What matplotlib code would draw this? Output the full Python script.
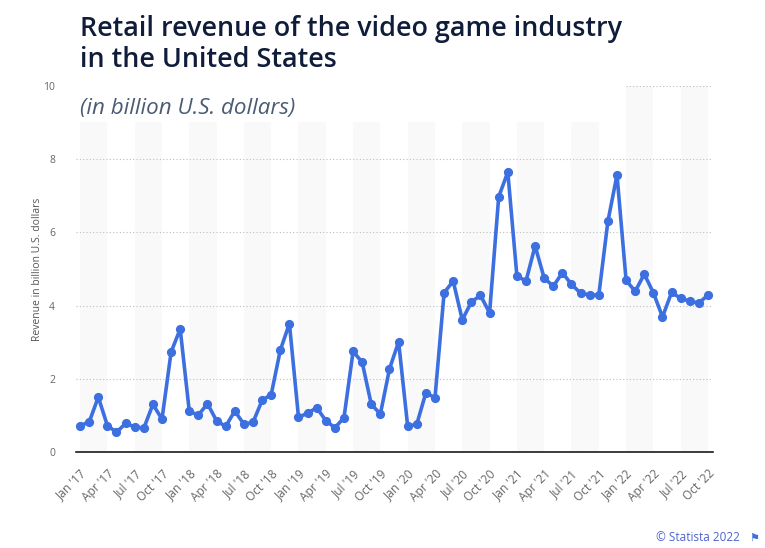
import matplotlib
matplotlib.use("Agg")
import matplotlib.pyplot as plt
from matplotlib.patches import Rectangle

# ---- data ----
months = ["Jan", "Feb", "Mar", "Apr", "May", "Jun", "Jul", "Aug", "Sep", "Oct", "Nov", "Dec"]
years = ["17", "18", "19", "20", "21", "22"]
revenue = [
    0.72, 0.82, 1.50, 0.72, 0.54, 0.78, 0.69, 0.65, 1.30, 0.90, 2.73, 3.36,   # 2017
    1.11, 1.01, 1.32, 0.85, 0.70, 1.12, 0.76, 0.81, 1.41, 1.57, 2.78, 3.51,   # 2018
    0.95, 1.06, 1.21, 0.86, 0.66, 0.94, 2.75, 2.45, 1.30, 1.04, 2.27, 3.01,   # 2019
    0.70, 0.76, 1.62, 1.48, 4.35, 4.67, 3.61, 4.10, 4.28, 3.80, 6.97, 7.65,   # 2020
    4.81, 4.67, 5.63, 4.75, 4.53, 4.90, 4.58, 4.34, 4.29, 4.29, 6.30, 7.57,   # 2021
    4.69, 4.39, 4.86, 4.35, 3.69, 4.36, 4.20, 4.12, 4.07, 4.29,               # 2022
]
labels = [f"{m} '{y}" for y in years for m in months][:len(revenue)]
y_ticks = [0, 2, 4, 6, 8, 10]

title_lines = ["Retail revenue of the video game industry", "in the United States"]
subtitle = "(in billion U.S. dollars)"
y_label = "Revenue in billion U.S. dollars"
source = "\u00a9 Statista 2022"

# ---- figure ----
W, H = 765, 548
fig = plt.figure(figsize=(W / 100, H / 100), dpi=100)
plt.rcParams["font.family"] = ["Open Sans", "DejaVu Sans"]

ax_l, ax_r, ax_t, ax_b = 76, 713, 86, 452
ax = fig.add_axes([ax_l / W, 1 - ax_b / H, (ax_r - ax_l) / W, (ax_b - ax_t) / H])

x = list(range(len(revenue)))

# alternating bands (3 months shaded, 3 months clear)
for start in range(0, len(revenue), 6):
    ax.axvspan(start, min(start + 3, len(revenue) - 1), color="#f9f9f9", zorder=0, lw=0)

ax.plot(x, revenue, color="#3c6fdf", lw=2.6, marker="o", ms=5.6,
        solid_joinstyle="round", solid_capstyle="round", zorder=3)

ax.set_xlim(-0.45, 69.55)
ax.set_ylim(0, 10)
ax.set_yticks(y_ticks)
ax.set_yticklabels([str(v) for v in y_ticks])
ax.yaxis.grid(True, color="#bdbdbd", linestyle=(0, (1, 2)), lw=0.8)
ax.set_axisbelow(True)

tick_pos = x[::3]
ax.set_xticks(tick_pos)
ax.set_xticklabels([labels[i] for i in tick_pos], rotation=45, ha="right",
                   va="top", rotation_mode="anchor", fontsize=8.6, color="#666666")
ax.tick_params(axis="x", length=0, pad=11)
ax.tick_params(axis="y", length=0, pad=15, labelsize=7.5, labelcolor="#666666")

for s in ["top", "right", "left"]:
    ax.spines[s].set_visible(False)
ax.spines["bottom"].set_color("#1a1a1a")
ax.spines["bottom"].set_linewidth(1.2)

ax.set_ylabel(y_label, fontsize=7.5, color="#555555", labelpad=0)

# white header area covering the plot top
fig.patches.append(Rectangle((ax_l / W, 1 - 122 / H), (626 - ax_l) / W, 122 / H,
                             transform=fig.transFigure, facecolor="white",
                             edgecolor="none", zorder=1))

fig.text(80 / W, 1 - 36 / H, title_lines[0], fontsize=19.4, fontweight="semibold",
         color="#0f1d3a", va="baseline", ha="left", zorder=5)
fig.text(80 / W, 1 - 67 / H, title_lines[1], fontsize=19.4, fontweight="semibold",
         color="#0f1d3a", va="baseline", ha="left", zorder=5)
fig.text(80 / W, 1 - 114 / H, subtitle, fontsize=16.1, style="italic",
         color="#4b5b73", va="baseline", ha="left", zorder=5)

fig.text(740 / W, 1 - 541 / H, source, fontsize=8.5, color="#4d64cf",
         va="baseline", ha="right")
fig.text(749 / W, 1 - 541 / H, "\u2691", fontsize=8, color="#3c6fdf",
         va="baseline", ha="left", family=["DejaVu Sans"])

fig.savefig("out.png", dpi=100)
